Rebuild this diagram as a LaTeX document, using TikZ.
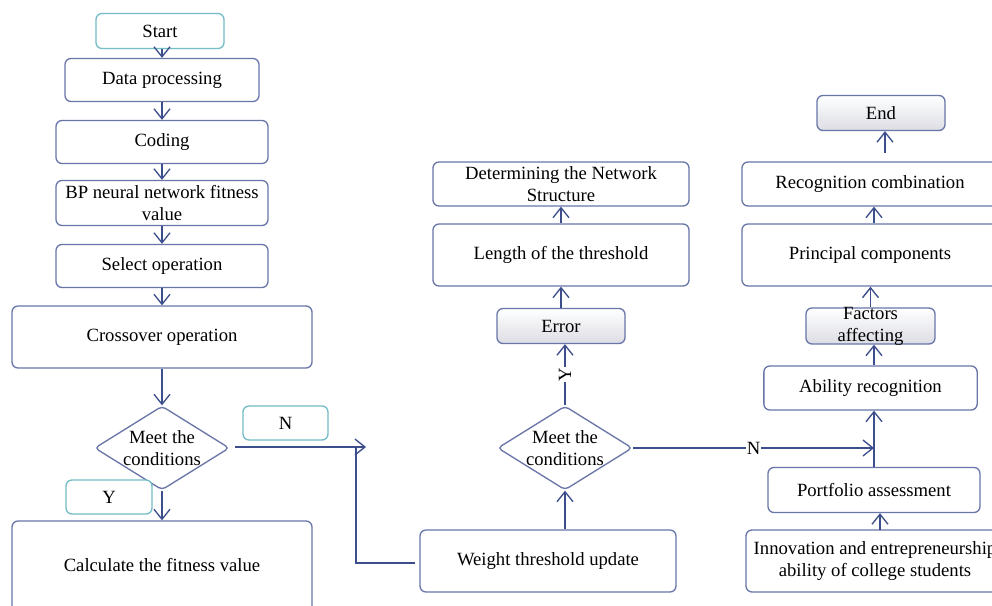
\documentclass[tikz,border=0pt]{standalone}
\usepackage{fontspec}
\setmainfont{Liberation Serif}
\usetikzlibrary{arrows.meta,shapes.geometric,calc}
\definecolor{boxc}{RGB}{105,118,168}
\definecolor{arrc}{RGB}{60,78,140}
\definecolor{teal1}{RGB}{115,188,198}
\definecolor{shadec}{RGB}{220,221,228}
\begin{document}
\begin{tikzpicture}[x=0.75pt,y=-0.75pt,
 font=\fontsize{14}{16.5}\selectfont,
 box/.style={draw=boxc,line width=1pt,rounded corners=4.5pt,fill=white,align=center,inner sep=1pt},
 tbox/.style={box,draw=teal1},
 gbox/.style={box,top color=white,bottom color=shadec},
 dia/.style={draw=boxc,line width=1pt,diamond,inner sep=0pt,rounded corners=3pt,fill=white,minimum width=101pt,minimum height=63pt},
 txt/.style={align=center,inner sep=1pt},
 arr/.style={draw=arrc,line width=1pt,-{Straight Barb[length=7.5pt,width=12pt,line width=1pt]}},
 ln/.style={draw=arrc,line width=1pt},
 lbl/.style={fill=white,inner sep=0.5pt},
]
\clip (0,0) rectangle (992,606);
\fill[white] (0,0) rectangle (992,606);
% left column
\node[tbox,minimum width=96pt,minimum height=26.25pt] (start) at (160,31) {Start};
\node[box,minimum width=145.5pt,minimum height=32.25pt] (data) at (162,80) {Data processing};
\node[box,minimum width=159pt,minimum height=32.25pt] (code) at (162,142) {Coding};
\node[box,minimum width=159pt,minimum height=33.75pt] (bp) at (162,203) {BP neural network fitness\\value};
\node[box,minimum width=159pt,minimum height=32.25pt] (sel) at (162,266) {Select operation};
\node[box,minimum width=225pt,minimum height=46.5pt] (cross) at (162,337) {Crossover operation};
\node[dia] (d1) at (162,448) {};
\node[txt] (d1t) at (d1) {Meet the\\conditions};
\node[tbox,minimum width=63.75pt,minimum height=25.5pt] (nbox) at (285.5,423) {N};
\node[tbox,minimum width=64.5pt,minimum height=25.5pt] (ybox) at (109,497) {Y};
\node[box,minimum width=225pt,minimum height=75pt] (calc) at (162,571) {};
\node[txt] (calct) at (162,565) {Calculate the fitness value};
% middle column
\node[box,minimum width=192pt,minimum height=46.5pt] (wt) at (548,561) {Weight threshold update};
\node[dia] (d2) at (565,448) {};
\node[txt] (d2t) at (d2) {Meet the\\conditions};
\node[gbox,minimum width=96pt,minimum height=26.25pt] (err) at (561,326) {Error};
\node[box,minimum width=192pt,minimum height=46.5pt] (len) at (561,255) {Length of the threshold};
\node[box,minimum width=192pt,minimum height=33pt] (det) at (561,184) {Determining the Network\\Structure};
% right column
\node[box,minimum width=193.5pt,minimum height=46.5pt] (inn) at (875,561) {Innovation and entrepreneurship\\ability of college students};
\node[box,minimum width=159pt,minimum height=33.75pt] (port) at (874,490) {Portfolio assessment};
\node[box,minimum width=160pt,minimum height=33pt] (abil) at (870.5,388) {Ability recognition};
\node[gbox,minimum width=96.75pt,minimum height=27pt] (fac) at (870.5,326) {};
\node[txt] (fact) at (fac) {Factors\\affecting};
\node[box,minimum width=195pt,minimum height=46.5pt] (prin) at (872,255) {};
\node[txt] (print) at (870,255) {Principal components};
\node[box,minimum width=195pt,minimum height=33pt] (rec) at (872,184) {};
\node[txt] (rect) at (870,184) {Recognition combination};
\node[gbox,minimum width=96pt,minimum height=26.25pt] (end) at (881,113) {End};
% connectors left
\draw[arr] (data.north |- start.south) -- (data.north);
\draw[arr] (data.south) -- (code.north);
\draw[arr] (code.south) -- (bp.north);
\draw[arr] (bp.south) -- (sel.north);
\draw[arr] (sel.south) -- (cross.north);
\draw[arr] (cross.south) -- (d1.north);
\draw[arr] (d1.south) -- (calc.north);
\coordinate (loopt) at (366,447);
\coordinate (loopv) at (356,447);
\draw[arr] ($(d1.east)+(5,-1)$) -- (loopt);
\draw[ln] ($(wt.west)+(-4,2)$) -| (loopv);
% connectors middle
\draw[arr] (d2.south |- wt.north) -- (d2.south);
\draw[arr] (d2.north) -- node[lbl,rotate=90]{Y} (d2.north |- err.south);
\draw[arr] (err.north) -- (err.north |- len.south);
\draw[arr] (len.north) -- (det.south);
% connectors right
\coordinate (pin) at (880,530);
\draw[arr] (pin) -- (pin |- port.south);
\draw[arr] (port.north) -- (port.north |- abil.south);
\draw[arr] (d2.east) -- node[lbl]{N} (d2.east -| port.north);
\draw[arr] (port.north |- abil.north) -- (port.north |- fac.south);
\draw[arr] (fac.north) -- (fac.north |- prin.south);
\draw[arr] (port.north |- prin.north) -- (port.north |- rec.south);
\coordinate (endtail) at (885,153);
\draw[arr] (endtail) -- (endtail |- end.south);
\end{tikzpicture}
\end{document}
